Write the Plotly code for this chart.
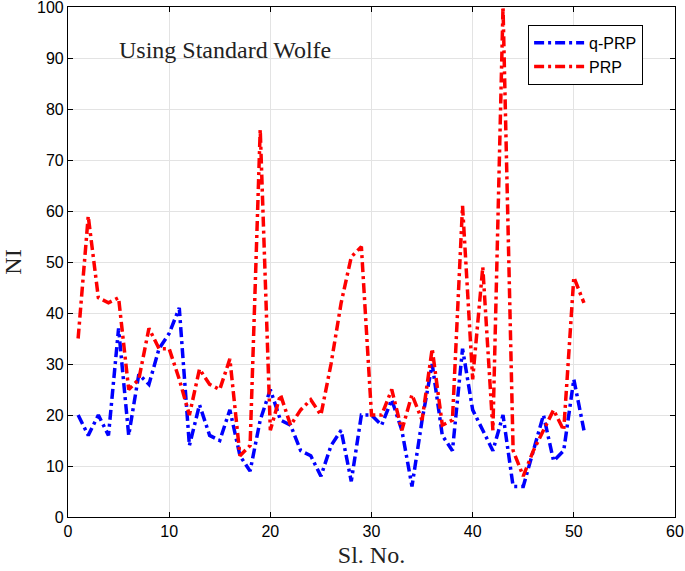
import plotly.graph_objects as go

sl_no = list(range(1, 52))
q_prp = [20, 16, 20, 16, 37, 16, 28, 26, 33, 36, 41, 14, 22, 16, 15, 21, 12, 9, 19, 25,
         19, 18, 13, 12, 8, 14, 17, 7, 20, 20, 18, 23, 17, 6, 19, 30, 16, 13, 33, 21,
         17, 13, 20, 6, 6, 13, 20, 11, 13, 27, 17]
prp = [35, 59, 43, 42, 43, 25, 27, 37, 33, 33, 27, 20, 29, 26, 25, 31, 12, 14, 76, 17,
       24, 18, 21, 23, 20, 30, 42, 51, 53, 20, 20, 25, 17, 24, 19, 33, 18, 19, 61, 27,
       49, 17, 100, 13, 8, 13, 17, 21, 17, 47, 42]
x_ticks = [0, 10, 20, 30, 40, 50, 60]
y_ticks = [0, 10, 20, 30, 40, 50, 60, 70, 80, 90, 100]

dash = "10px,4px,3px,4px"
fig = go.Figure()
fig.add_trace(go.Scatter(x=sl_no, y=q_prp, mode="lines", name="q-PRP",
                         line=dict(color="#0000ff", width=3.5, dash=dash)))
fig.add_trace(go.Scatter(x=sl_no, y=prp, mode="lines", name="PRP",
                         line=dict(color="#ff0000", width=3.5, dash=dash)))

axis_common = dict(showline=True, linecolor="black", linewidth=1.2, mirror="ticks",
                   ticks="inside", ticklen=5, tickcolor="black", showgrid=True,
                   gridcolor="#e3e3e3", gridwidth=1, zeroline=False, automargin=False,
                   ticklabeloverflow="allow",
                   tickfont=dict(family="Liberation Sans, Arial", size=16, color="black"))

fig.update_xaxes(range=[0, 60], tickvals=x_ticks,
                 title=dict(text="Sl. No.", font=dict(family="Liberation Serif, serif", size=24, color="#222"),
                            standoff=6), **axis_common)
fig.update_yaxes(range=[0, 100], tickvals=y_ticks,
                 title=dict(text="NI", font=dict(family="Liberation Serif, serif", size=24, color="#222"),
                            standoff=20), **axis_common)

fig.add_annotation(x=15.5, y=91.6, xref="x", yref="y", text="Using Standard Wolfe",
                   showarrow=False, font=dict(family="Liberation Serif, serif", size=24, color="#222"))

fig.update_layout(
    width=685, height=571,
    margin=dict(l=68, r=10, t=7, b=54),
    plot_bgcolor="white", paper_bgcolor="white",
    legend=dict(x=0.758, y=0.965, xanchor="left", yanchor="top",
                bordercolor="black", borderwidth=1, bgcolor="white",
                font=dict(family="Liberation Sans, Arial", size=16, color="black"),
                itemwidth=50),
    showlegend=True,
)

fig.write_html("out.html", config={"displayModeBar": False},
               post_script="document.body.style.margin='0px';document.body.style.overflow='hidden';")
